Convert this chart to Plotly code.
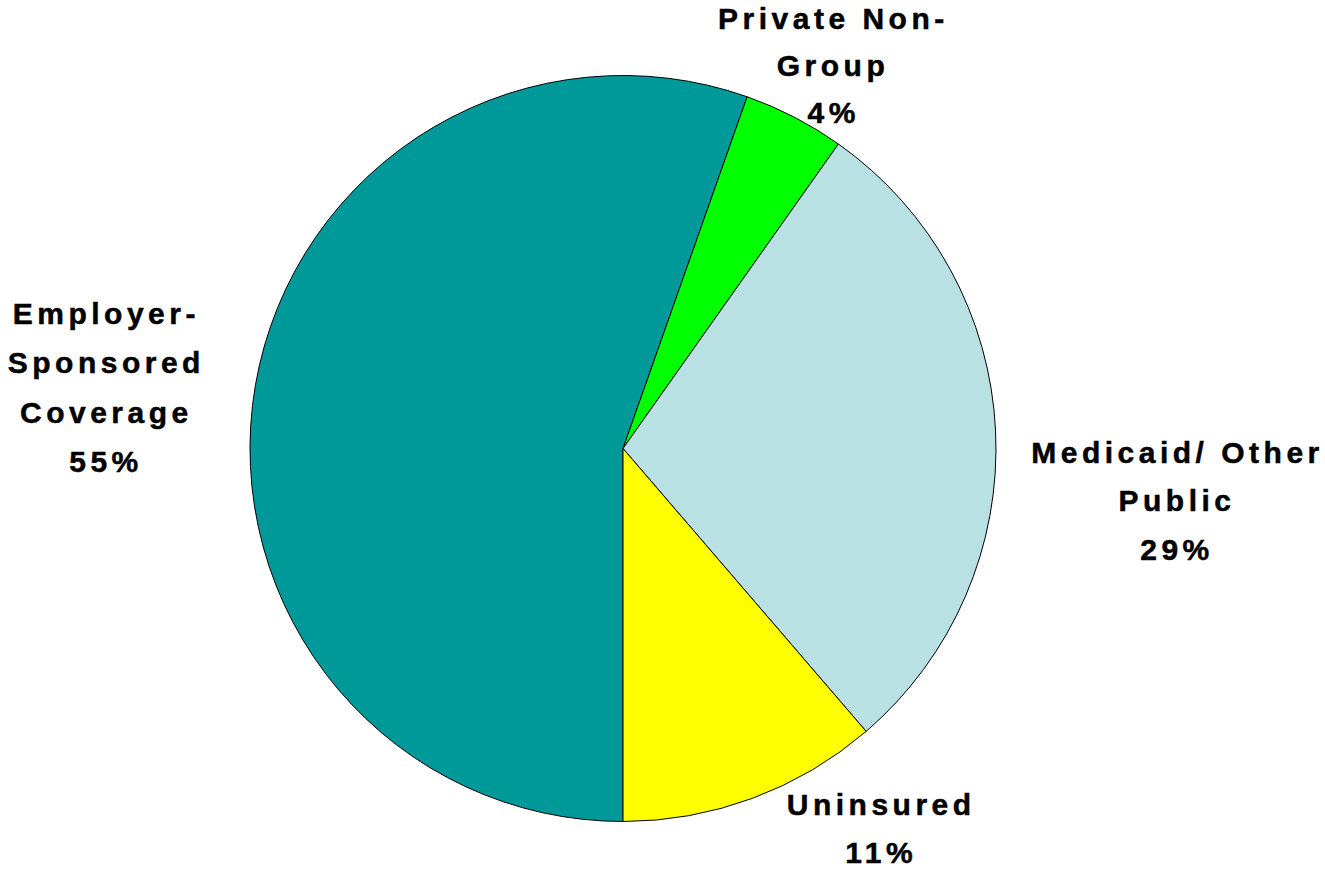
import plotly.graph_objects as go

# Data
categories = ["Employer-Sponsored Coverage", "Private Non-Group", "Medicaid/ Other Public", "Uninsured"]
shares = [55.4, 4.4, 28.9, 11.3]
label_lines = [
    ["Employer-", "Sponsored", "Coverage", "55%"],
    ["Private Non-", "Group", "4%"],
    ["Medicaid/ Other", "Public", "29%"],
    ["Uninsured", "11%"],
]
colors = ["#009999", "#00FF00", "#B9E0E3", "#FFFF00"]

W, H = 1325, 869
# label layout (pixel centre of each block's first line, line step)
label_pos = [(106, 313, 49.5), (833, 18, 47), (1177, 452, 48.5), (881, 804, 48)]

fig = go.Figure(go.Pie(
    labels=categories,
    values=shares,
    sort=False,
    direction="clockwise",
    rotation=180,
    marker=dict(colors=colors, line=dict(color="black", width=1)),
    textinfo="none",
    hoverinfo="label+percent",
    showlegend=False,
    domain=dict(x=[250 / W, 996 / W], y=[1 - 822 / H, 1 - 75 / H]),
))

annotations = []
for lines, (cx, cy, step) in zip(label_lines, label_pos):
    for i, t in enumerate(lines):
        annotations.append(dict(
            text=t, x=cx / W, y=1 - (cy + i * step) / H,
            xref="paper", yref="paper", xanchor="center", yanchor="middle",
            showarrow=False, borderpad=0,
            font=dict(family="Liberation Sans, Arial, sans-serif", size=30, color="black", weight="bold"),
        ))

fig.update_layout(
    width=W, height=H,
    margin=dict(l=0, r=0, t=0, b=0),
    paper_bgcolor="white", plot_bgcolor="white",
    annotations=annotations,
)

post = """
document.body.style.margin = '0';
document.body.style.overflow = 'hidden';
document.querySelectorAll('.annotation-text').forEach(function(e){
  e.style.letterSpacing = '4.5px';
  e.style.stroke = 'black';
  e.style.strokeWidth = '0.5px';
});
"""
fig.write_html("out.html", post_script=post, config={"displayModeBar": False})
